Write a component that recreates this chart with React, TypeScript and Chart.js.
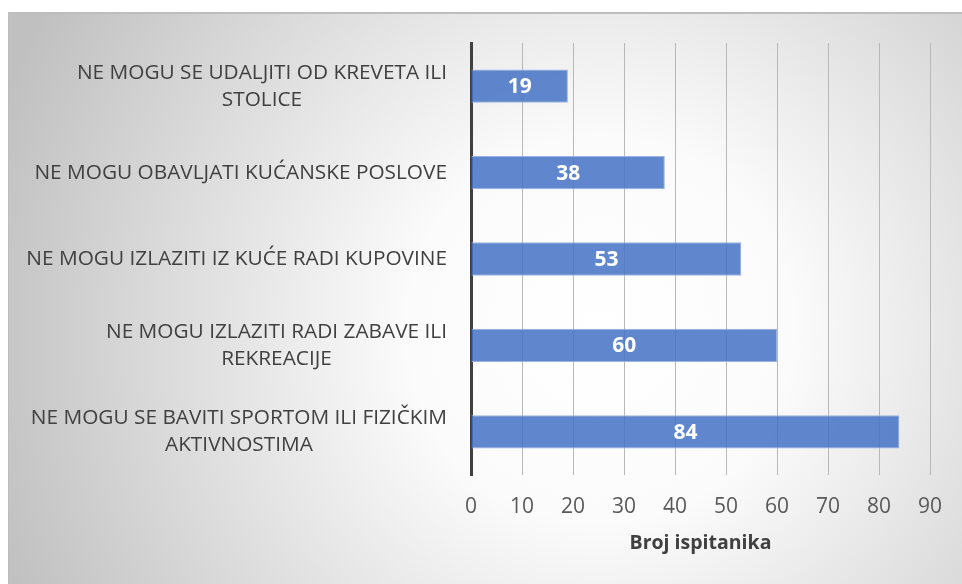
import React, { useEffect, useRef } from "react";
import { Chart, registerables } from "chart.js";

Chart.register(...registerables);

const categories: string[][] = [
  ["NE MOGU SE UDALJITI OD KREVETA ILI", "STOLICE"],
  ["NE MOGU OBAVLJATI KUĆANSKE POSLOVE"],
  ["NE MOGU IZLAZITI IZ KUĆE RADI KUPOVINE"],
  ["NE MOGU IZLAZITI RADI ZABAVE ILI", "REKREACIJE"],
  ["NE MOGU SE BAVITI SPORTOM ILI FIZIČKIM", "AKTIVNOSTIMA"],
];
const values: number[] = [19, 38, 53, 60, 84];
const xMin = 0;
const xMax = 90;
const xStep = 10;
const xTitle = "Broj ispitanika";

const FONT = "'Open Sans', sans-serif";
const LABEL_SIZE = 20.8;

const bgPlugin = {
  id: "bgPlugin",
  beforeDraw(chart: any) {
    const { ctx, width, height } = chart;
    ctx.save();
    const g = ctx.createRadialGradient(600, 330, 0, 600, 330, 640);
    g.addColorStop(0, "#ffffff");
    g.addColorStop(0.3, "#fbfbfb");
    g.addColorStop(1, "#c0c0c0");
    ctx.fillStyle = g;
    ctx.fillRect(8, 12, width - 8, height - 12);
    ctx.fillStyle = "#bdbdbd";
    ctx.fillRect(8, 12, width - 8, 2);
    ctx.fillRect(8, 12, 1, height - 12);
    ctx.restore();
  },
};

const yLabelPlugin = {
  id: "yLabelPlugin",
  afterDraw(chart: any) {
    const { ctx } = chart;
    const yScale = chart.scales.y;
    const right = chart.chartArea.left - 24;
    const lineH = 27;
    ctx.save();
    ctx.font = `${LABEL_SIZE}px ${FONT}`;
    ctx.fillStyle = "#404040";
    ctx.textAlign = "center";
    ctx.textBaseline = "middle";
    categories.forEach((lines, i) => {
      const yc = yScale.getPixelForTick(i);
      const maxW = Math.max(...lines.map((l) => ctx.measureText(l).width));
      const cx = right - maxW / 2;
      const startY = yc - ((lines.length - 1) * lineH) / 2;
      lines.forEach((l, j) => ctx.fillText(l, cx, startY + j * lineH));
    });
    ctx.restore();
  },
};

const valueLabelPlugin = {
  id: "valueLabelPlugin",
  afterDatasetsDraw(chart: any) {
    const { ctx } = chart;
    const meta = chart.getDatasetMeta(0);
    ctx.save();
    ctx.font = `bold 21px ${FONT}`;
    ctx.fillStyle = "#ffffff";
    ctx.textAlign = "center";
    ctx.textBaseline = "middle";
    meta.data.forEach((bar: any, i: number) => {
      const cx = (bar.x + bar.base) / 2;
      ctx.fillText(String(values[i]), cx, bar.y + 1);
    });
    ctx.restore();
  },
};

export default function App() {
  const ref = useRef<HTMLCanvasElement | null>(null);
  useEffect(() => {
    if (!ref.current) return;
    const chart = new Chart(ref.current, {
      type: "bar",
      data: {
        labels: categories.map((c) => c.join(" ")),
        datasets: [
          {
            data: values,
            backgroundColor: "rgba(68,114,196,0.85)",
            borderColor: "#9bb3e0",
            borderWidth: 1,
            categoryPercentage: 1,
            barPercentage: 0.385,
          },
        ],
      },
      options: {
        indexAxis: "y",
        animation: false,
        responsive: false,
        maintainAspectRatio: false,
        layout: { padding: { top: 43, right: 32, bottom: 0, left: 0 } },
        plugins: { legend: { display: false }, tooltip: { enabled: false } },
        scales: {
          y: {
            ticks: { display: false },
            grid: { display: false },
            border: { display: true, color: "#404040", width: 3 },
            afterFit(scale: any) {
              scale.width = 471;
            },
          },
          x: {
            min: xMin,
            max: xMax,
            ticks: {
              stepSize: xStep,
              color: "#595959",
              font: { family: FONT, size: 21 },
              padding: 19,
            },
            grid: { color: "#b8b8b8", drawTicks: false, lineWidth: 1 },
            border: { display: false },
            title: {
              display: true,
              text: xTitle,
              color: "#404040",
              font: { family: FONT, size: 19.5, weight: "bold" },
              padding: { top: 0, bottom: 29 },
            },
            afterFit(scale: any) {
              scale.height = 109;
            },
          },
        },
      },
      plugins: [bgPlugin, yLabelPlugin, valueLabelPlugin],
    });
    return () => chart.destroy();
  }, []);
  return (
    <div style={{ position: "absolute", left: 0, top: 0, width: 962, height: 584 }}>
      <canvas ref={ref} width={962} height={584} style={{ display: "block" }} />
    </div>
  );
}
